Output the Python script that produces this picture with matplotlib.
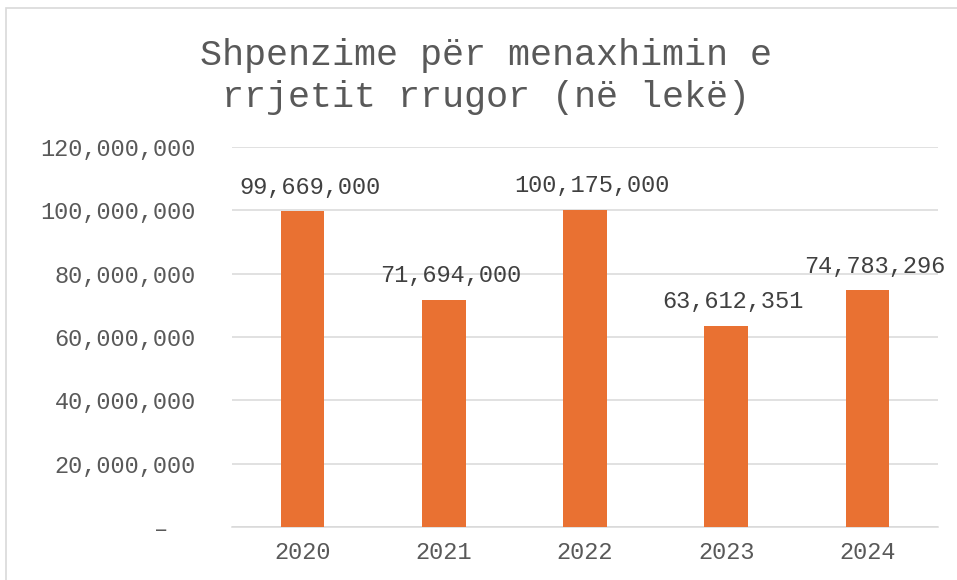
import matplotlib.pyplot as plt
from matplotlib.patches import Rectangle
from matplotlib.ticker import FuncFormatter

years = ['2020', '2021', '2022', '2023', '2024']
spending = [99669000, 71694000, 100175000, 63612351, 74783296]
yticks = [0, 20000000, 40000000, 60000000, 80000000, 100000000, 120000000]

bar_color = '#E97132'
grid_color = '#d9d9d9'
text_color = '#595959'
font = 'Liberation Mono'

plt.rcParams['font.family'] = font

fig = plt.figure(figsize=(9.57, 5.8), dpi=100)
fig.patch.set_facecolor('white')

# chart frame (cut off on the right and bottom)
fig.patches.append(Rectangle((6 / 957, -0.1), 1.2, 1 - 8 / 580 + 0.1,
                             transform=fig.transFigure, fill=False,
                             edgecolor=grid_color, linewidth=1.2))

ax = fig.add_axes([232 / 957, 1 - 527 / 580, (938 - 232) / 957, (527 - 147) / 580])

x = range(len(years))
bars = ax.bar(x, spending, width=0.31, color=bar_color, zorder=3)

ax.set_ylim(0, 120000000)
ax.set_xlim(-0.5, len(years) - 0.5)
ax.set_yticks(yticks)

def fmt(v, pos):
    if v == 0:
        return '–  '
    return f'{int(v):,}'

ax.yaxis.set_major_formatter(FuncFormatter(fmt))
ax.set_xticks(list(x))
ax.set_xticklabels(years)

ax.grid(axis='y', color=grid_color, linewidth=1.1, zorder=0)
for s in ['top', 'right', 'left']:
    ax.spines[s].set_visible(False)
ax.spines['bottom'].set_color(grid_color)
ax.spines['bottom'].set_linewidth(1.1)
ax.tick_params(axis='both', length=0, colors=text_color, labelsize=17)
ax.tick_params(axis='y', pad=26)
ax.tick_params(axis='x', pad=10)

for b, v in zip(bars, spending):
    ax.annotate(f'{v:,}', (b.get_x() + b.get_width() / 2, v),
                xytext=(5, 9), textcoords='offset points',
                ha='center', va='bottom', fontsize=17, color='#404040')

fig.text(486 / 957, 1 - 38 / 580,
         'Shpenzime për menaxhimin e\nrrjetit rrugor (në lekë)',
         ha='center', va='top', fontsize=26.5, color=text_color,
         linespacing=1.25)

plt.savefig('out.png', dpi=100)
